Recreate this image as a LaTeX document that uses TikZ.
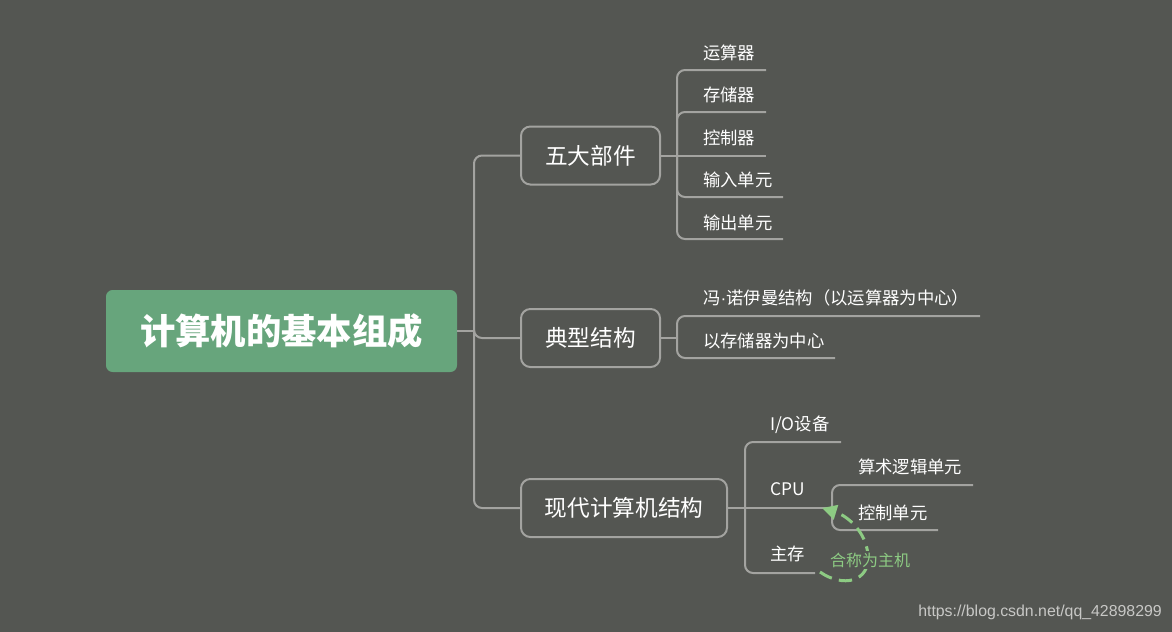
\documentclass[tikz,border=0pt]{standalone}
\usepackage{fontspec}
\newfontfamily\cjk{Noto Sans CJK SC}
\newfontfamily\wm{Liberation Sans}
\usetikzlibrary{arrows.meta}
\definecolor{bg}{RGB}{84,86,82}
\definecolor{linec}{RGB}{163,163,160}
\definecolor{rootc}{RGB}{103,165,124}
\definecolor{hlgreen}{RGB}{141,203,131}
\definecolor{wmc}{RGB}{200,200,198}
\begin{document}
\begin{tikzpicture}[x=0.75pt,y=-0.75pt,
  conn/.style={draw=linec, line width=1.5pt, rounded corners=6},
  rootbox/.style={fill=rootc, rounded corners=5, minimum width=263.25pt, minimum height=61.5pt,
    font=\cjk\bfseries\fontsize{26.5}{30}\selectfont, text=white, inner sep=0},
  branch/.style={draw=linec, line width=1.5pt, rounded corners=7, minimum height=43.5pt,
    font=\cjk\fontsize{17}{20}\selectfont, text=white, inner sep=0},
  leaf/.style={anchor=west, inner sep=0, font=\cjk\fontsize{13}{15}\selectfont, text=white},
  note/.style={inner sep=1pt, fill=bg, font=\cjk\fontsize{12}{14}\selectfont, text=hlgreen},
  hlarrow/.style={draw=hlgreen, line width=2.25pt, dash pattern=on 10pt off 5.5pt,
    -{Triangle[length=11pt,width=11pt]}}
]
\useasboundingbox[fill=bg] (0,0) rectangle (1172,632);

% root
\node[rootbox] (root) at (281.5,331) {计算机的基本组成};

% branches
\node[branch, minimum width=104.25pt] (b1) at (590.5,155.5) {五大部件};
\node[branch, minimum width=104.25pt] (b2) at (590.5,338) {典型结构};
\node[branch, minimum width=154.5pt] (b3) at (624,508) {现代计算机结构};

\coordinate (jr) at (474,331);
\draw[conn] (root.east) -- (jr);
\draw[conn] (jr) |- (b1.west);
\draw[conn] (jr) |- (b2.west);
\draw[conn] (jr) |- (b3.west);

% leaves of b1
\coordinate (j1) at (677,155.5);
\draw[conn] (b1.east) -- (j1);
\node[leaf] (a1) at (703,53) {运算器};
\node[leaf] (a2) at (703,95) {存储器};
\node[leaf] (a3) at (703,138) {控制器};
\node[leaf] (a4) at (703,180) {输入单元};
\node[leaf] (a5) at (703,223) {输出单元};
\coordinate (a1e) at (766,70);
\coordinate (a2e) at (766,112);
\coordinate (a3e) at (766,155.5);
\coordinate (a4e) at (783,197);
\coordinate (a5e) at (783,239);
\draw[conn] (j1) |- (a1e);
\draw[conn] (j1) |- (a2e);
\draw[conn] (j1) -- (a3e);
\draw[conn] (j1) |- (a4e);
\draw[conn] (j1) |- (a5e);

% leaves of b2
\coordinate (j2) at (677,338);
\draw[conn] (b2.east) -- (j2);
\node[leaf] (c1) at (703,298) {冯{\wm ·}诺伊曼结构（以运算器为中心）};
\node[leaf] (c2) at (703,341) {以存储器为中心};
\coordinate (c1e) at (980,316);
\coordinate (c2e) at (835,358);
\draw[conn] (j2) |- (c1e);
\draw[conn] (j2) |- (c2e);

% leaves of b3
\coordinate (j3) at (745,508);
\draw[conn] (b3.east) -- (j3);
\node[leaf] (d1) at (770,425) {I/O设备};
\node[leaf] (d2) at (770,489) {CPU};
\node[leaf] (d3) at (770,554) {主存};
\coordinate (d1e) at (841,442);
\coordinate (j4) at (832,508);
\coordinate (d3e) at (815,573);
\draw[conn] (j3) |- (d1e);
\draw[conn] (j3) -- (j4);
\draw[conn] (j3) |- (d3e);

% CPU children
\node[leaf] (e1) at (858,467) {算术逻辑单元};
\node[leaf] (e2) at (858,513) {控制单元};
\coordinate (e1e) at (973,485);
\coordinate (e2e) at (938,530);
\draw[conn] (j4) |- (e1e);
\draw[conn] (j4) |- (e2e);

% host annotation
\coordinate (hs) at (820,572);
\coordinate (ht) at (822,508);
\draw[hlarrow] (hs) .. controls (843,588) and (870,582) .. (868,555)
  .. controls (866,532) and (848,516) .. (ht);
\node[note] (host) at (870,560) {合称为主机};

% watermark
\node[anchor=west, inner sep=0, font=\wm\fontsize{11.9}{13}\selectfont, text=wmc] (wmark) at (918,612) {https://blog.csdn.net/qq\_42898299};
\end{tikzpicture}
\end{document}
